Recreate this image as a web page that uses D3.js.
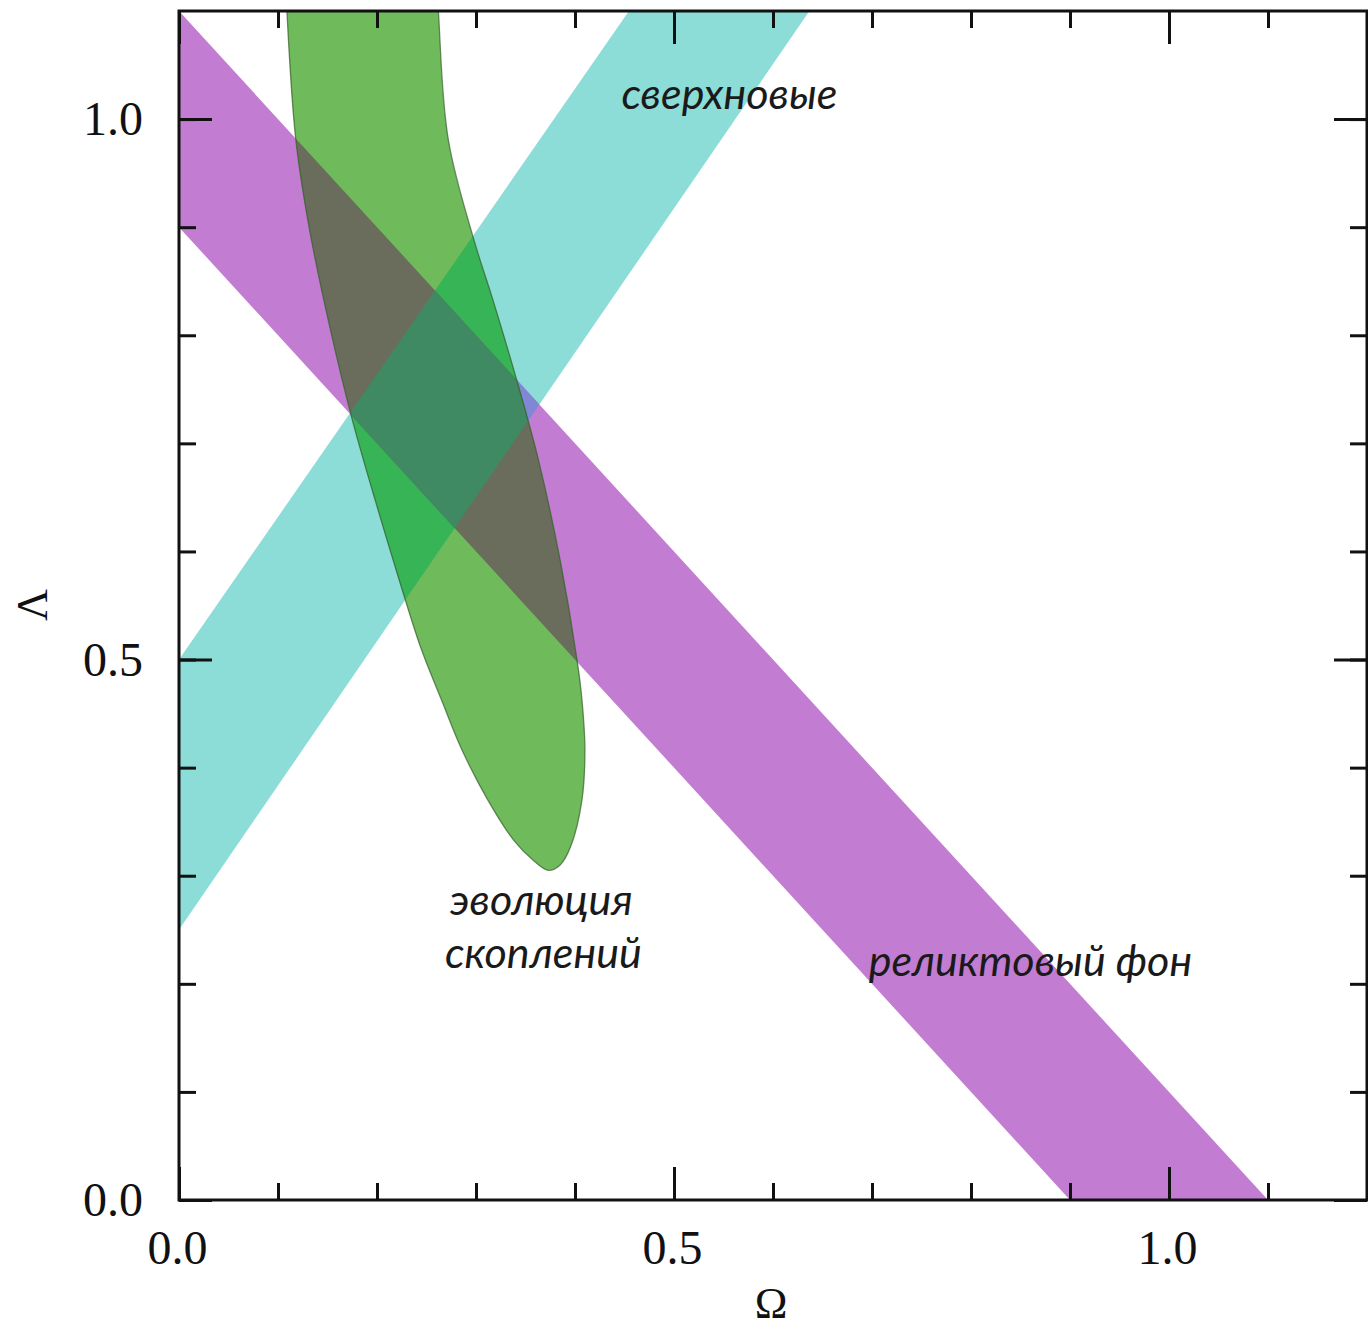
<!DOCTYPE html>
<html>
<head>
<meta charset="utf-8">
<script src="https://cdn.jsdelivr.net/npm/d3@7"></script>
<style>
    body { margin: 0; background: #fff; }
    svg { display: block; }
</style>
</head>
<body>
<svg id="chart" width="1368" height="1327"></svg>
<script>
// Data (Omega, Lambda)
const omegaTicks = [0, 0.1, 0.2, 0.3, 0.4, 0.5, 0.6, 0.7, 0.8, 0.9, 1.0, 1.1];
const lambdaTicks = [0, 0.1, 0.2, 0.3, 0.4, 0.5, 0.6, 0.7, 0.8, 0.9, 1.0];
const majorTicks = [0, 0.5, 1.0];
const tickLabels = ["0.0", "0.5", "1.0"];

// CMB band: 0.9 < Omega + Lambda < 1.1
const cmbBand = [[0, 1.1], [1.1, 0], [0.9, 0], [0, 0.9]];
// supernovae band
const snBand = [[0, 0.25], [0, 0.5], [0.481, 1.135], [0.663, 1.135]];
// cluster evolution contour (goes out through the top of the frame)
const clusterContour = [
    [0.105, 1.20], [0.109, 1.100], [0.118, 0.981], [0.132, 0.897], [0.153, 0.805],
    [0.175, 0.722], [0.198, 0.648], [0.227, 0.560], [0.245, 0.509], [0.265, 0.463],
    [0.286, 0.416], [0.312, 0.370], [0.338, 0.333], [0.357, 0.315], [0.373, 0.305],
    [0.385, 0.310], [0.396, 0.328], [0.407, 0.370], [0.410, 0.416], [0.407, 0.463],
    [0.402, 0.500], [0.385, 0.592], [0.363, 0.685], [0.341, 0.759], [0.317, 0.833],
    [0.298, 0.888], [0.272, 0.981], [0.262, 1.100], [0.257, 1.20], [0.18, 1.32]
];

const annotations = [
    { text: "сверхновые", at: [0.556, 1.009] },
    { text: "эволюция", at: [0.366, 0.264] },
    { text: "скоплений", at: [0.368, 0.215] },
    { text: "реликтовый фон", at: [0.86, 0.207] }
];

// colours of each region (printed overlaps)
const colors = {
    sn: "#8cdcd8",
    cmb: "#c27dd2",
    snCmb: "#8088d6",
    cluster: "#6fbb5c",
    clusterSn: "#36b456",
    clusterCmb: "#6b6d5c",
    clusterAll: "#3f8a62"
};

const svg = d3.select("#chart");
const plotLeft = 179, plotRight = 1367, plotTop = 11, plotBottom = 1200;

const x = d3.scaleLinear().domain([0, 1.2]).range([plotLeft, plotRight]);
const y = d3.scaleLinear().domain([0, 1.1]).range([plotBottom, plotTop]);

const line = d3.line().x(d => x(d[0])).y(d => y(d[1]));
const smooth = d3.line().x(d => x(d[0])).y(d => y(d[1])).curve(d3.curveCatmullRomClosed.alpha(0.5));

const snPath = line(snBand) + "Z";
const cmbPath = line(cmbBand) + "Z";
const clusterPath = smooth(clusterContour);

svg.append("rect").attr("width", 1368).attr("height", 1327).attr("fill", "#fff");

const defs = svg.append("defs");
defs.append("clipPath").attr("id", "plot-clip")
    .append("rect")
    .attr("x", plotLeft).attr("y", plotTop)
    .attr("width", plotRight - plotLeft).attr("height", plotBottom - plotTop);
defs.append("clipPath").attr("id", "sn-clip").append("path").attr("d", snPath);
defs.append("clipPath").attr("id", "cmb-clip").append("path").attr("d", cmbPath);

const plot = svg.append("g").attr("clip-path", "url(#plot-clip)");

// single bands
plot.append("path").attr("d", snPath).attr("fill", colors.sn);
plot.append("path").attr("d", cmbPath).attr("fill", colors.cmb);
// supernovae x CMB
plot.append("g").attr("clip-path", "url(#sn-clip)")
    .append("path").attr("d", cmbPath).attr("fill", colors.snCmb);

// cluster contour and its overlaps
plot.append("path").attr("d", clusterPath).attr("fill", colors.cluster);
plot.append("g").attr("clip-path", "url(#sn-clip)")
    .append("path").attr("d", clusterPath).attr("fill", colors.clusterSn);
plot.append("g").attr("clip-path", "url(#cmb-clip)")
    .append("path").attr("d", clusterPath).attr("fill", colors.clusterCmb);
plot.append("g").attr("clip-path", "url(#cmb-clip)")
    .append("g").attr("clip-path", "url(#sn-clip)")
    .append("path").attr("d", clusterPath).attr("fill", colors.clusterAll);
plot.append("path").attr("d", clusterPath)
    .attr("fill", "none")
    .attr("stroke", "#355e2c")
    .attr("stroke-width", 1.3)
    .attr("stroke-opacity", 0.7);

// Axes: minor ticks and major ticks, all pointing inwards
function drawAxis(axisFn, scale, values, transform, size, labels) {
    const ax = axisFn(scale).tickValues(values).tickSize(-size).tickSizeOuter(0)
        .tickFormat(labels ? ((d, i) => labels[i]) : "");
    const g = svg.append("g").attr("transform", transform).call(ax);
    g.select(".domain").remove();
    g.selectAll(".tick line").attr("stroke", "#111").attr("stroke-width", 3);
    return g;
}

drawAxis(d3.axisBottom, x, omegaTicks, `translate(0,${plotBottom})`, 17);
drawAxis(d3.axisTop, x, omegaTicks, `translate(0,${plotTop})`, 17);
drawAxis(d3.axisLeft, y, lambdaTicks, `translate(${plotLeft},0)`, 17);
drawAxis(d3.axisRight, y, lambdaTicks, `translate(${plotRight},0)`, 17);

const xb = drawAxis(d3.axisBottom, x, majorTicks, `translate(0,${plotBottom})`, 33, tickLabels);
drawAxis(d3.axisTop, x, majorTicks, `translate(0,${plotTop})`, 33);
const yl = drawAxis(d3.axisLeft, y, majorTicks, `translate(${plotLeft},0)`, 33, tickLabels);
drawAxis(d3.axisRight, y, majorTicks, `translate(${plotRight},0)`, 33);

xb.selectAll(".tick text")
    .attr("y", 0).attr("dy", 0).attr("transform", "translate(-2,64)")
    .style("font-family", "'Liberation Serif', serif").style("font-size", "48px").attr("fill", "#111");
yl.selectAll(".tick text")
    .attr("x", -36).attr("dy", "0.33em")
    .style("font-family", "'Liberation Serif', serif").style("font-size", "48px").attr("fill", "#111");

// frame
svg.append("rect")
    .attr("x", plotLeft).attr("y", plotTop)
    .attr("width", plotRight - plotLeft).attr("height", plotBottom - plotTop)
    .attr("fill", "none").attr("stroke", "#111").attr("stroke-width", 3);

// axis titles
svg.append("text")
    .attr("x", 771).attr("y", 1318)
    .attr("text-anchor", "middle")
    .style("font-family", "'Liberation Serif', serif").style("font-size", "44px")
    .attr("fill", "#111")
    .text("Ω");

svg.append("text")
    .attr("transform", "translate(47,605) rotate(-90)")
    .attr("text-anchor", "middle")
    .style("font-family", "'Liberation Serif', serif").style("font-size", "44px")
    .attr("fill", "#111")
    .text("Λ");

svg.selectAll(".annot")
    .data(annotations)
    .join("text")
    .attr("class", "annot")
    .attr("x", d => x(d.at[0]))
    .attr("y", d => y(d.at[1]))
    .attr("text-anchor", "middle")
    .style("font-family", "Lato, sans-serif")
    .style("font-style", "italic")
    .style("font-size", "43px")
    .attr("fill", "#1a1a1a")
    .text(d => d.text);
</script>
</body>
</html>
